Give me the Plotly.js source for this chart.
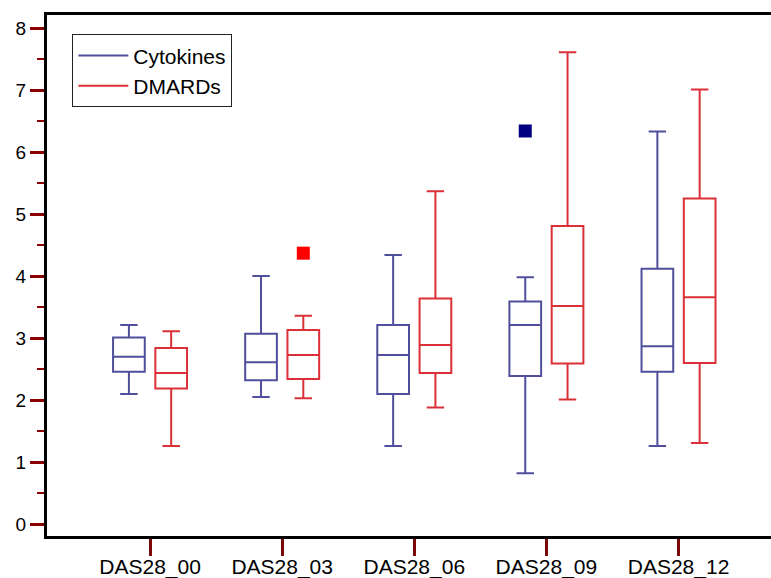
<!DOCTYPE html>
<html>
<head>
<meta charset="utf-8">
<script src="https://cdn.plot.ly/plotly-3.0.1.min.js"></script>
<style>html,body{margin:0;padding:0;background:#fff;}#chart{width:771px;height:578px;}</style>
</head>
<body>
<div id="chart"></div>
<script>
const categories = ["DAS28_00", "DAS28_03", "DAS28_06", "DAS28_09", "DAS28_12"];

const cytoLower  = [2.10, 2.05, 1.26, 0.82, 1.26];
const cytoQ1     = [2.46, 2.32, 2.10, 2.39, 2.46];
const cytoMedian = [2.70, 2.61, 2.73, 3.21, 2.87];
const cytoQ3     = [3.01, 3.07, 3.21, 3.59, 4.12];
const cytoUpper  = [3.21, 4.00, 4.34, 3.98, 6.33];
const cytoOutlierCat = ["DAS28_09"];
const cytoOutlierVal = [6.34];

const dmaLower  = [1.26, 2.03, 1.88, 2.01, 1.31];
const dmaQ1     = [2.19, 2.34, 2.44, 2.59, 2.60];
const dmaMedian = [2.44, 2.73, 2.89, 3.52, 3.66];
const dmaQ3     = [2.84, 3.13, 3.64, 4.81, 5.25];
const dmaUpper  = [3.11, 3.36, 5.37, 7.61, 7.01];
const dmaOutlierCat = ["DAS28_03"];
const dmaOutlierVal = [4.37];

const seriesNames = ["Cytokines", "DMARDs"];

const idx = categories.map((c, i) => i);
const off = 0.16;
const boxW = 0.24;
const cytoColor = "#4f4f9c";
const dmaColor = "#dc3038";

const pos = (cats, sign) => cats.map(c => categories.indexOf(c) + sign * off);

const traces = [
  {
    type: "box", name: seriesNames[0], showlegend: false,
    x: idx.map(i => i - off),
    q1: cytoQ1, median: cytoMedian, q3: cytoQ3,
    lowerfence: cytoLower, upperfence: cytoUpper,
    width: boxW, whiskerwidth: 0.55, boxpoints: false,
    line: {color: cytoColor, width: 2}, fillcolor: "rgba(0,0,0,0)",
    hoverinfo: "skip"
  },
  {
    type: "box", name: seriesNames[1], showlegend: false,
    x: idx.map(i => i + off),
    q1: dmaQ1, median: dmaMedian, q3: dmaQ3,
    lowerfence: dmaLower, upperfence: dmaUpper,
    width: boxW, whiskerwidth: 0.55, boxpoints: false,
    line: {color: dmaColor, width: 2}, fillcolor: "rgba(0,0,0,0)",
    hoverinfo: "skip"
  },
  {
    type: "scatter", mode: "markers", showlegend: false,
    x: pos(cytoOutlierCat, -1), y: cytoOutlierVal,
    marker: {symbol: "square", size: 13, color: "#000080"}
  },
  {
    type: "scatter", mode: "markers", showlegend: false,
    x: pos(dmaOutlierCat, 1), y: dmaOutlierVal,
    marker: {symbol: "square", size: 13, color: "#ff0000"}
  },
  {
    type: "scatter", mode: "lines", name: seriesNames[0],
    x: [null], y: [null], line: {color: cytoColor, width: 2}
  },
  {
    type: "scatter", mode: "lines", name: seriesNames[1],
    x: [null], y: [null], line: {color: dmaColor, width: 2}
  }
];

const layout = {
  width: 771, height: 578,
  margin: {l: 47, r: 0, t: 15, b: 42},
  paper_bgcolor: "#fff", plot_bgcolor: "#fff",
  font: {family: "Liberation Sans, Arial, sans-serif", size: 18, color: "#000"},
  showlegend: true,
  legend: {
    x: 0.035, y: 0.963, xanchor: "left", yanchor: "top",
    bordercolor: "#222", borderwidth: 1, bgcolor: "#fff",
    font: {size: 21}, tracegroupgap: 0, itemwidth: 50
  },
  xaxis: {
    range: [-0.78, 4.70],
    tickmode: "array", tickvals: idx, ticktext: categories,
    showgrid: false, zeroline: false,
    showline: true, linecolor: "#000", linewidth: 3, mirror: true,
    ticks: "outside", ticklen: 17, tickwidth: 3, tickcolor: "#7a0a0a",
    tickfont: {size: 21}, ticklabelstandoff: -7
  },
  yaxis: {
    range: [-0.19, 8.21],
    dtick: 1, tick0: 0,
    showgrid: false, zeroline: false,
    showline: true, linecolor: "#000", linewidth: 3,
    ticks: "outside", ticklen: 14, tickwidth: 3, tickcolor: "#8b0000",
    tickfont: {size: 19},
    minor: {dtick: 0.5, ticks: "outside", ticklen: 7, tickwidth: 2, tickcolor: "#8b0000", showgrid: false}
  }
};

Plotly.newPlot("chart", traces, layout, {displayModeBar: false, staticPlot: true});
</script>
</body>
</html>
